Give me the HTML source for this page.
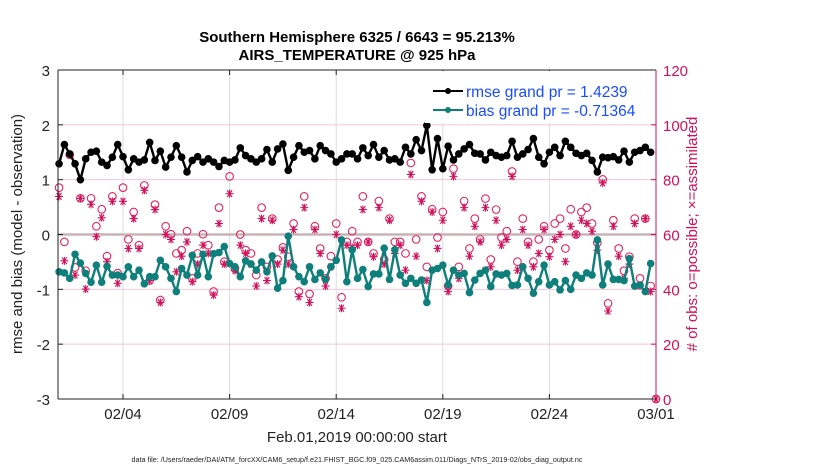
<!DOCTYPE html>
<html><head><meta charset="utf-8"><style>
body{margin:0;background:#fff;}
svg{display:block;font-family:"Liberation Sans",sans-serif;}
</style></head><body>
<svg id="chart" width="830" height="470" xmlns="http://www.w3.org/2000/svg">
<text x="357" y="42" text-anchor="middle" font-size="15" font-weight="bold">Southern Hemisphere 6325 / 6643 = 95.213%</text>
<text x="357" y="60" text-anchor="middle" font-size="15" font-weight="bold">AIRS_TEMPERATURE @ 925 hPa</text>
<g id="grid"></g>
<g id="marks"></g>
<g id="axes"></g>
<text transform="translate(22,234) rotate(-90)" text-anchor="middle" font-size="15" fill="#222">rmse and bias (model - observation)</text>
<text transform="translate(697,234) rotate(-90)" text-anchor="middle" font-size="15" fill="#d0105a"># of obs: o=possible; ×=assimilated</text>
<text x="357" y="442" text-anchor="middle" font-size="15" fill="#222">Feb.01,2019 00:00:00 start</text>
<text x="357" y="462" text-anchor="middle" font-size="7.2" fill="#222">data file: /Users/raeder/DAI/ATM_forcXX/CAM6_setup/f.e21.FHIST_BGC.f09_025.CAM6assim.011/Diags_NTrS_2019-02/obs_diag_output.nc</text>
<g>
<rect x="425" y="71" width="226" height="52" fill="#fff"/>
<line x1="433" y1="91" x2="463" y2="91" stroke="#000" stroke-width="2"/>
<circle cx="448" cy="91" r="3" fill="#000"/>
<text x="466" y="97" font-size="15.5" fill="#1a4cff">rmse grand pr = 1.4239</text>
<line x1="433" y1="110" x2="463" y2="110" stroke="#0e7f7a" stroke-width="2"/>
<circle cx="448" cy="110" r="3" fill="#0e7f7a"/>
<text x="466" y="116" font-size="15.5" fill="#1a4cff">bias grand pr = -0.71364</text>
</g>
</svg>
<script>
const rmse=[1.29,1.64,1.47,1.29,1.0,1.38,1.50,1.52,1.32,1.26,1.41,1.64,1.42,1.18,1.38,1.32,1.36,1.68,1.35,1.52,1.23,1.41,1.62,1.41,1.14,1.35,1.42,1.32,1.38,1.32,1.24,1.35,1.32,1.36,1.58,1.44,1.38,1.32,1.38,1.55,1.32,1.56,1.65,1.17,1.41,1.62,1.50,1.53,1.38,1.62,1.53,1.47,1.32,1.38,1.47,1.47,1.38,
1.58,1.44,1.64,1.41,1.53,1.36,1.38,1.32,1.59,1.47,1.73,1.53,1.99,1.18,1.75,1.20,1.61,1.36,1.47,1.56,1.64,1.48,1.47,1.36,1.50,1.44,1.41,1.44,1.70,1.41,1.47,1.55,1.75,1.41,1.29,1.50,1.59,1.44,1.70,1.59,1.48,1.44,1.48,1.35,1.14,1.41,1.40,1.42,1.36,1.52,1.32,1.50,1.53,1.59,1.50];
const bias=[-0.68,-0.70,-0.80,-0.36,-0.52,-0.71,-0.87,-0.56,-0.87,-0.58,-0.74,-0.74,-0.77,-0.59,-0.77,-0.65,-0.90,-0.77,-0.77,-0.47,-0.59,-0.80,-1.04,-0.62,-0.74,-0.38,-0.74,-0.36,-0.77,-0.35,-0.33,-0.22,-0.53,-0.59,-0.77,-0.48,-0.54,-0.65,-0.50,-0.68,-0.39,-0.98,-0.84,-0.03,-0.59,-0.77,-0.86,-0.59,-0.82,-0.70,-0.82,-0.59,-0.47,-0.10,-0.86,-0.28,-0.80,
-0.64,-0.95,-0.72,-0.72,-0.25,-0.82,-0.28,-0.74,-0.89,-0.80,-0.89,-0.83,-1.24,-0.65,-0.62,-0.56,-0.92,-0.65,-0.74,-0.71,-1.06,-0.83,-0.71,-0.65,-0.95,-0.72,-0.74,-0.71,-0.93,-0.92,-0.59,-0.80,-1.07,-0.86,-0.56,-0.92,-0.86,-1.01,-0.84,-1.00,-0.74,-0.80,-0.70,-0.74,-0.10,-0.92,-0.54,-0.82,-0.82,-0.84,-0.44,-0.94,-0.92,-1.04,-0.53];
const possible=[77.1,57.3,89.1,48.0,73.2,46.8,73.2,63.0,69.2,52.1,73.9,45.9,77.1,58.2,68.2,56.1,77.9,43.2,70.9,36.1,63.0,60.1,53.1,54.3,61.2,44.0,53.1,60.1,56.1,39.2,69.8,50.1,81.2,47.6,60.0,54.3,53.1,45.2,69.8,48.2,65.8,50.9,55.3,51.9,64.0,39.2,73.9,38.3,63.0,54.9,44.0,52.1,64.0,37.1,57.3,61.2,57.3,
73.9,57.3,53.1,72.2,50.9,65.8,57.3,57.3,53.1,86.1,58.2,73.9,48.2,69.2,58.9,68.2,41.2,84.0,48.2,72.2,54.9,65.8,58.2,73.1,50.9,69.1,58.9,61.2,83.0,50.1,65.8,57.3,50.1,58.2,63.0,54.3,64.0,65.8,54.9,69.2,60.0,68.2,69.8,64.0,57.0,80.1,34.9,65.2,54.9,46.8,51.9,65.8,44.0,65.8,41.2,0];
const assimilated=[73.9,50.4,89.1,45.2,73.2,40.1,71.0,59.2,66.1,50.1,72.1,42.2,72.1,54.9,65.8,54.9,76.1,43.2,69.1,35.2,60.0,58.2,46.4,52.1,57.3,42.8,49.2,56.1,53.1,37.9,64.0,49.2,74.9,46.8,56.1,53.1,49.2,41.2,65.8,43.2,65.2,49.2,54.3,49.2,61.8,37.3,69.8,35.2,61.8,53.1,41.2,48.2,60.0,33.1,56.1,55.3,56.1,
69.1,57.3,51.9,69.8,49.2,65.2,53.1,56.1,47.0,81.9,52.1,72.1,43.2,68.2,54.9,65.2,39.2,81.2,44.0,69.8,52.1,63.0,57.3,69.8,48.2,65.2,56.1,58.2,81.2,47.0,61.8,56.1,48.2,53.1,61.8,51.9,58.2,60.0,50.1,63.0,60.0,65.2,64.0,61.2,54.3,78.8,32.1,63.0,52.1,44.0,49.2,64.0,41.2,65.8,39.2,0];
const xTickDays=[3,8,13,18,23,28];
const xTickLabels=["02/04","02/09","02/14","02/19","02/24","03/01"];
const yTicks=[-3,-2,-1,0,1,2,3];
const rTicks=[0,20,40,60,80,100,120];

const L=58,R=656,T=70,B=399,D0=-0.05,D1=28;
const xs=d=>L+(d-D0)/(D1-D0)*(R-L);
const ys=v=>B-(v+3)/6*(B-T);
const yr=n=>B-n/120*(B-T);
const dayOf=i=>i*0.25;
const NS="http://www.w3.org/2000/svg";
function mk(parent,tag,attrs){const e=document.createElementNS(NS,tag);for(const k in attrs)e.setAttribute(k,attrs[k]);parent.appendChild(e);return e;}
const grid=document.getElementById('grid'),marks=document.getElementById('marks'),axes=document.getElementById('axes');

xTickDays.forEach((d,i)=>{
 const g=mk(grid,'line',{x1:xs(d),x2:xs(d),y1:T,y2:B,stroke:'#dcdcdc','stroke-width':1});
 
 
 mk(axes,'line',{x1:xs(d),x2:xs(d),y1:B,y2:B-5,stroke:'#222'});
 mk(axes,'line',{x1:xs(d),x2:xs(d),y1:T,y2:T+5,stroke:'#222'});
 const t=mk(axes,'text',{x:xs(d),y:B+20,'text-anchor':'middle','font-size':15,fill:'#222'});
 t.textContent=xTickLabels[i];
 
 
});
rTicks.forEach(n=>{
 if(n>0&&n<120&&n!==60){const g=mk(grid,'line',{x1:L,x2:R,y1:yr(n),y2:yr(n),stroke:'#f2c8d6','stroke-width':1});
 
 }
 mk(axes,'line',{x1:R,x2:R-5,y1:yr(n),y2:yr(n),stroke:'#d0105a'});
 const t=mk(axes,'text',{x:R+7,y:yr(n)+6,'font-size':15,fill:'#d0105a'});
 t.textContent=n;
 
 
});
const z=mk(grid,'line',{x1:L,x2:R,y1:ys(0),y2:ys(0),stroke:'#c8b4b8','stroke-width':2.5});


yTicks.forEach(v=>{
 mk(axes,'line',{x1:L,x2:L+5,y1:ys(v),y2:ys(v),stroke:'#222'});
 const t=mk(axes,'text',{x:L-8,y:ys(v)+6,'text-anchor':'end','font-size':15,fill:'#222'});
 t.textContent=v;
 
 
});
mk(axes,'line',{x1:L,x2:L,y1:T,y2:B,stroke:'#222'});
mk(axes,'line',{x1:L,x2:R,y1:B,y2:B,stroke:'#222'});
mk(axes,'line',{x1:L,x2:R,y1:T,y2:T,stroke:'#222'});
mk(axes,'line',{x1:R,x2:R,y1:T,y2:B,stroke:'#d0105a'});

// obs counts
const obsN=possible.length;
for(let i=0;i<obsN;i++){
 const d=i<obsN-1?dayOf(i):28;
 const c=mk(marks,'circle',{cx:xs(d),cy:yr(possible[i]),r:3.8,fill:'none',stroke:'#e0245e','stroke-width':1.1});
 
 
 const x=xs(d),y=yr(assimilated[i]),a=4;
 const s=mk(marks,'path',{d:`M${x-a},${y}H${x+a}M${x-a*0.6},${y-a*0.85}L${x+a*0.6},${y+a*0.85}M${x-a*0.6},${y+a*0.85}L${x+a*0.6},${y-a*0.85}M${x},${y-a}V${y+a}`,stroke:'#d0105a','stroke-width':1.1,fill:'none'});
 
 
}
function series(arr,color,name){
 const p=mk(marks,'polyline',{points:arr.map((v,i)=>xs(dayOf(i))+','+ys(v)).join(' '),fill:'none',stroke:color,'stroke-width':2.4});
 
 
 arr.forEach((v,i)=>{
  const c=mk(marks,'circle',{cx:xs(dayOf(i)),cy:ys(v),r:3.8,fill:color});
  
  
 });
}
series(rmse,'#000','rmse');
series(bias,'#0e7f7a','bias');
</script>
</body></html>
